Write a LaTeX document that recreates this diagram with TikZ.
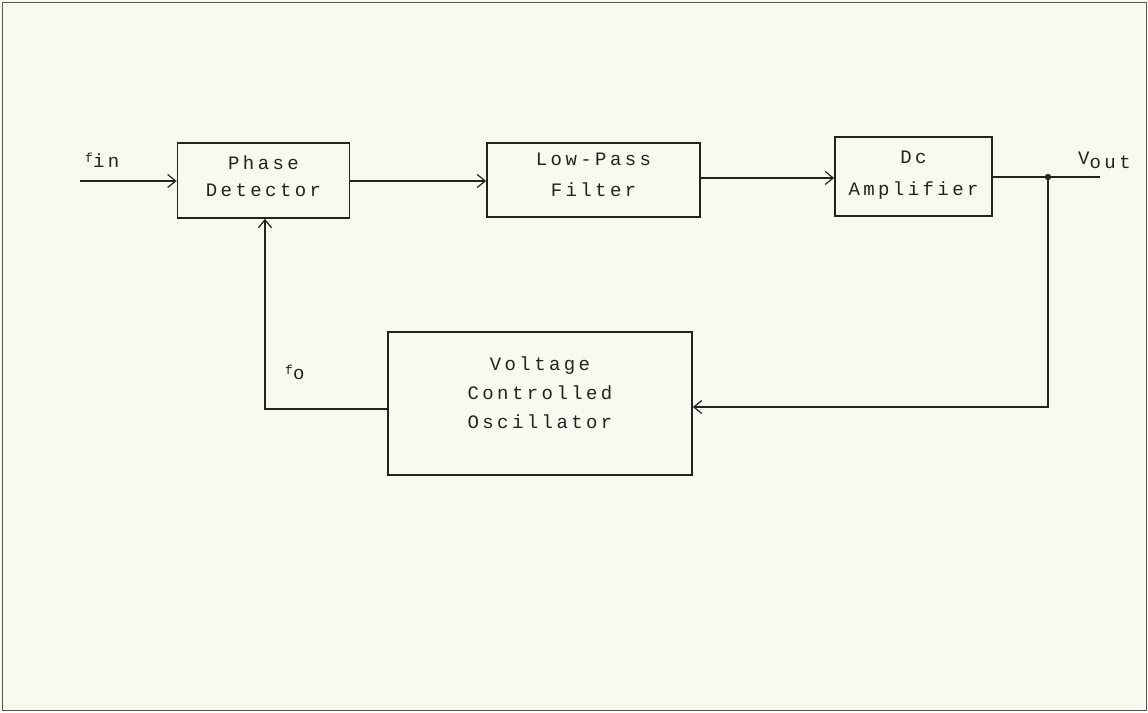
\documentclass[tikz,border=0pt]{standalone}
\usepackage{fontspec}
\setmainfont{Liberation Mono}[LetterSpace=18]
\usetikzlibrary{arrows.meta}
\definecolor{paper}{HTML}{FAF9F0}
\definecolor{ink}{HTML}{222222}
\begin{document}
\begin{tikzpicture}[x=1pt,y=-1pt,
  blk/.style={draw=ink,line width=1.7pt,inner sep=0pt},
  txt/.style={align=center,inner sep=0pt,text=ink,font=\fontsize{19}{30}\selectfont},
  wire/.style={draw=ink,line width=1.7pt},
  arr/.style={wire,-{Straight Barb[length=8pt,width=13pt,line width=1.2pt]}},
  lbl/.style={font=\fontsize{19}{20}\selectfont,inner sep=0pt,text=ink}]
\fill[paper] (0,0) rectangle (1148,712);
\draw[gray!70!black,line width=0.8pt] (2,2) rectangle (1146,710);
\useasboundingbox (0,0) rectangle (1148,712);
% blocks
\node[blk,minimum width=172pt,minimum height=75pt] (pd) at (263.5,180.5) {};
\node[blk,minimum width=213pt,minimum height=74pt] (lpf) at (593.5,180) {};
\node[blk,minimum width=157pt,minimum height=79pt] (dc) at (913.5,176.5) {};
\node[blk,minimum width=304pt,minimum height=143pt] (vco) at (540,403.5) {};
\node[txt,font=\fontsize{19}{27}\selectfont] (pdt) at (263.5,176) {Phase\\Detector};
\node[txt,font=\fontsize{19}{31}\selectfont] (lpft) at (593.5,175) {Low-Pass\\Filter};
\node[txt,font=\fontsize{19}{32}\selectfont] (dct) at (913.5,175) {Dc\\Amplifier};
\node[txt,font=\fontsize{19}{29}\selectfont] (vcot) at (540,393) {Voltage\\Controlled\\Oscillator};
% coordinates
\coordinate (in) at (80,181);
\coordinate (out) at (1100,177);
\coordinate (j) at (1048,177);
\coordinate (jb) at (1048,407);
\coordinate (fl) at (265,409);
% connectors
\draw[arr] (in) -- (in -| pd.west);
\draw[arr] (pd.east |- 0,181) -- (lpf.west |- 0,181);
\draw[arr] (lpf.east |- 0,178) -- (dc.west |- 0,178);
\draw[wire] (dc.east |- 0,177) -- (out);
\fill[ink] (j) circle (3.2pt);
\draw[arr] (j) -- (jb) -- (jb -| vco.east);
\draw[arr] (vco.west |- fl) -- (fl) -- (fl |- pd.south);
% labels
\node[lbl,anchor=west] (fin) at (85,160) {\fontsize{13}{13}\selectfont f\raisebox{-5pt}{\fontsize{19}{19}\selectfont in}};
\node[lbl,anchor=west] (vout) at (1078,160) {V\raisebox{-4pt}{out}};
\node[lbl,anchor=west] (fo) at (285,372) {\fontsize{13}{13}\selectfont f\raisebox{-5pt}{\fontsize{19}{19}\selectfont o}};
\end{tikzpicture}
\end{document}
